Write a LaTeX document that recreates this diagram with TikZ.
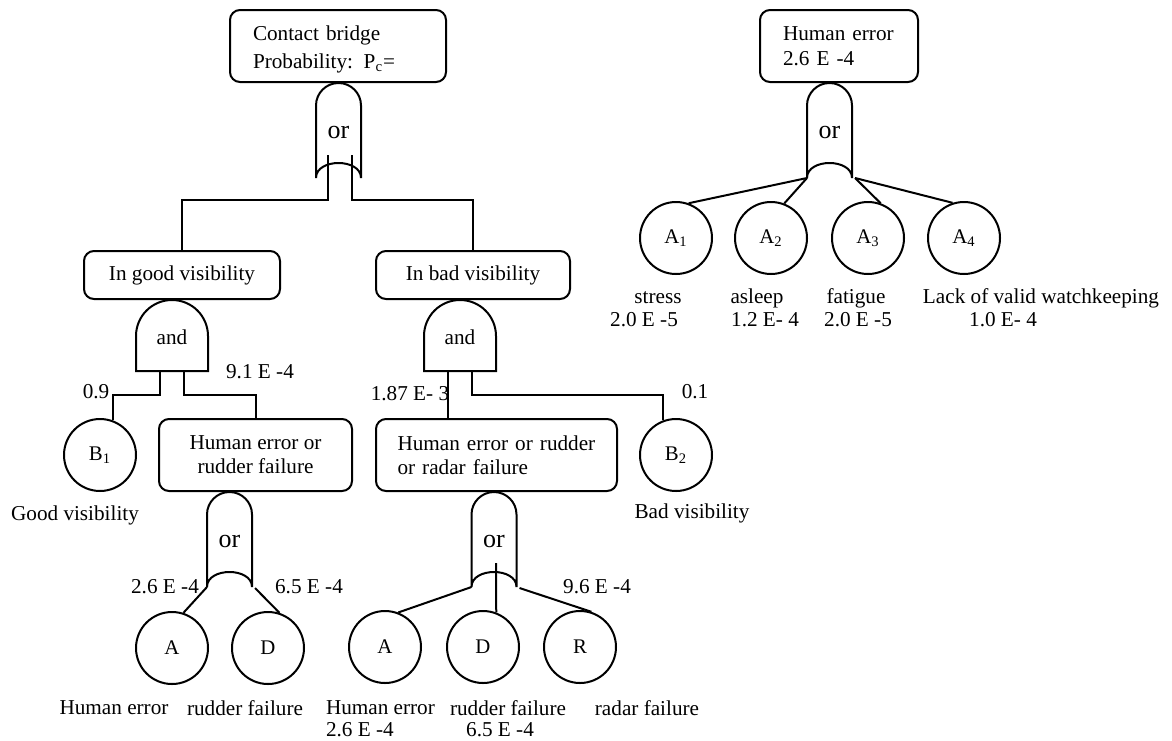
\documentclass[tikz,border=0pt]{standalone}
\usepackage{fontspec}
\setmainfont{Liberation Serif}
\usetikzlibrary{shapes,positioning}

\begin{document}
\begin{tikzpicture}[x=0.5pt, y=0.5pt, line width=1pt, font=\fontsize{10.6}{12}\selectfont]

            \useasboundingbox (0,0) rectangle (1172,-740);

            % Define block styles
            \tikzstyle{block} = [rectangle, draw, rounded corners=5pt, minimum height=36pt, inner sep=0pt]
            \tikzstyle{event} = [circle, draw, minimum size=36pt, inner sep=0pt, font=\fontsize{10.4}{12}\selectfont]
            \tikzstyle{note} = [inner sep=0pt]
            \tikzstyle{line} = [draw]

            % Gates
            \tikzset{
              orgate/.pic={
                \draw (-22.5,-22.5) arc[start angle=180, end angle=0, radius=22.5] -- (22.5,-95)
                  .. controls (22.5,-75) and (-22.5,-75) .. (-22.5,-95) -- cycle;
                \node [font=\fontsize{13}{15}\selectfont] (-txt) at (0,-49) {or};
                \coordinate (-l) at (-22.5,-95);
                \coordinate (-r) at (22.5,-95);
                \coordinate (-c) at (0,-80);
              },
              andgate/.pic={
                \draw (-36,-36) arc[start angle=180, end angle=0, radius=36] -- (36,-71) -- (-36,-71) -- cycle;
                \node (-txt) at (0,-37) {and};
                \coordinate (-ol) at (-12,-71);
                \coordinate (-or) at (12,-71);
              }
            }

            % Nodes
            \node [block, minimum width=108pt, text width=85pt, align=left, inner xsep=11.5pt] (top) at (338,-46) {\vphantom{Ag}\\[-8pt]Contact bridge\\[2pt]Probability: P\textsubscript{c}=};
            \node [block, minimum width=98pt, minimum height=24pt] (good) at (182,-275) {In good visibility};
            \node [block, minimum width=97pt, minimum height=24pt] (bad) at (473,-275) {In bad visibility};
            \node [block, minimum width=96.5pt, align=center] (hr) at (255.5,-455) {Human error or\\rudder failure};
            \node [block, minimum width=120.5pt, text width=99pt, align=left, inner xsep=10.75pt] (hrr) at (496.5,-455) {Human error or rudder\\or radar failure};
            \node [block, minimum width=79pt, text width=56pt, align=left, inner xsep=11.5pt] (herr) at (839,-46) {Human error\\[0.5pt]2.6 E -4};

            \node [event] (B1) at (100,-455) {B\textsubscript{1}};
            \node [event] (B2) at (676,-455) {B\textsubscript{2}};
            \node [event] (errA) at (172,-648) {A};
            \node [event] (rudD) at (268,-648) {D};
            \node [event] (errA2) at (385,-647) {A};
            \node [event] (rudD2) at (483,-647) {D};
            \node [event] (radR) at (580,-647) {R};
            \node [event] (a1) at (676,-238) {A\textsubscript{1}};
            \node [event] (a2) at (771,-238) {A\textsubscript{2}};
            \node [event] (a3) at (868,-238) {A\textsubscript{3}};
            \node [event] (a4) at (964,-238) {A\textsubscript{4}};

            \pic (or1) at (338.5,-83) {orgate};
            \pic (and1) at (172,-300) {andgate};
            \pic (and2) at (460,-300) {andgate};
            \pic (or2) at (229.5,-492) {orgate};
            \pic (or3) at (494,-492) {orgate};
            \pic (or4) at (829.5,-83) {orgate};

            % Lines
            \path [line] (or1-c) ++(-10.5,8) -- ++(0,-45) -| (good.north);
            \path [line] (or1-c) ++(13.5,8) -- ++(0,-45) -| (bad.north);
            \path [line] (and1-ol) -- ++(0,-24) -| (B1.70);
            \path [line] (and1-or) -- ++(0,-24) -| (hr.north);
            \path [line] (and2-ol) -- (and2-ol |- hrr.north);
            \path [line] (and2-or) -- ++(0,-24) -| (B2.111);
            \path [line] (or2-l) -- (errA.72);
            \path [line] (or2-r) ++(3,-1) -- (rudD.72);
            \path [line] (or3-l) -- (errA2.69);
            \path [line] (or3-c) ++(2,9) -- (rudD2.69);
            \path [line] (or3-r) ++(3,-1) -- (radR.72);
            \path [line] (or4-l) -- (a1.70);
            \path [line] (or4-l) -- (a2.69);
            \path [line] (or4-r) ++(3,0) -- (a3.70);
            \path [line] (or4-r) ++(3,0) -- (a4.108);

            % Labels
            \node [note] (p09) at (96,-392) {0.9};
            \node [note] (p91) at (260,-372) {9.1 E -4};
            \node [note] (p187) at (410,-394) {1.87 E- 3};
            \node [note] (p01) at (695,-392) {0.1};
            \node [note] (goodlbl) at (75,-515) {Good visibility};
            \node [note] (badlbl) at (692,-513) {Bad visibility};
            \node [note] (pA) at (165,-587) {2.6 E -4};
            \node [note] (pD) at (309,-587) {6.5 E -4};
            \node [note] (pR) at (597,-587) {9.6 E -4};
            \node [note] (lblA) at (114,-708) {Human error};
            \node [note] (lblD) at (245,-708) {rudder failure};
            \node [note, anchor=west, align=left] (lblA2) at (325,-719) {Human error\\[-1pt]2.6 E -4};
            \node [note] (lblD2) at (508,-708) {rudder failure};
            \node [note] (pD2) at (500,-730) {6.5 E -4};
            \node [note] (lblR) at (647,-708) {radar failure};

            \node [note] (s1) at (658,-298) {stress};
            \node [note] (v1) at (644,-320) {2.0 E -5};
            \node [note] (s2) at (757,-298) {asleep};
            \node [note] (v2) at (765,-320) {1.2 E- 4};
            \node [note] (s3) at (856,-298) {fatigue};
            \node [note] (v3) at (858,-320) {2.0 E -5};
            \node [note] (s4) at (1041,-298) {Lack of valid watchkeeping};
            \node [note] (v4) at (1003,-320) {1.0 E- 4};

        \end{tikzpicture}
\end{document}
